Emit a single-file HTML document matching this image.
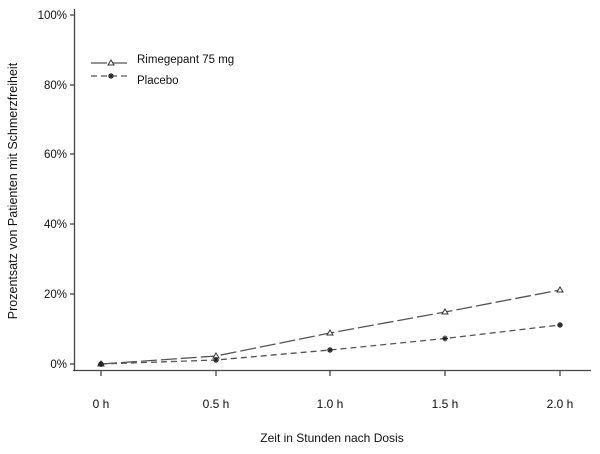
<!DOCTYPE html><html><head><style>body{margin:0;background:#fff}</style></head><body>
<svg width="600" height="449" xmlns="http://www.w3.org/2000/svg" font-family="Liberation Sans, Arial, sans-serif" font-size="12" fill="#111">
<rect width="600" height="449" fill="#fff"/>
<g stroke="#444" stroke-width="1.3" fill="none">
<line x1="74.5" y1="9" x2="74.5" y2="370"/>
<line x1="73" y1="370.5" x2="591" y2="370.5"/>
<line x1="70" y1="15" x2="74" y2="15"/><line x1="70" y1="85" x2="74" y2="85"/><line x1="70" y1="154" x2="74" y2="154"/><line x1="70" y1="224" x2="74" y2="224"/><line x1="70" y1="294" x2="74" y2="294"/><line x1="70" y1="364" x2="74" y2="364"/>
<line x1="101" y1="371" x2="101" y2="376"/><line x1="216" y1="371" x2="216" y2="376"/><line x1="330" y1="371" x2="330" y2="376"/><line x1="445" y1="371" x2="445" y2="376"/><line x1="560" y1="371" x2="560" y2="376"/>
</g>
<g text-anchor="end" font-size="11.5"><text x="67" y="19">100%</text><text x="67" y="89">80%</text><text x="67" y="158">60%</text><text x="67" y="228">40%</text><text x="67" y="298">20%</text><text x="67" y="368">0%</text></g>
<g text-anchor="middle"><text x="101" y="408">0 h</text><text x="216" y="408">0.5 h</text><text x="330" y="408">1.0 h</text><text x="445" y="408">1.5 h</text><text x="560" y="408">2.0 h</text>
<text x="332" y="442">Zeit in Stunden nach Dosis</text>
<text transform="translate(17,191) rotate(-90)" font-size="12.5">Prozentsatz von Patienten mit Schmerzfreiheit</text></g>
<g fill="none" stroke="#555" stroke-width="1.3">
<polyline stroke-dasharray="16,4" points="101,364 216,356 330,333 445,312 560,290"/>
<polyline stroke-dasharray="6,4" points="101,364 216,360 330,350 445,338.5 560,325"/>
<line x1="91" y1="63" x2="128" y2="63" stroke-dasharray="16,4"/>
<line x1="91" y1="76" x2="128" y2="76" stroke-dasharray="6,4"/>
</g>
<g fill="#fff" stroke="#333" stroke-width="1">
<path d="M101,361 l3,5 h-6z M216,353 l3,5 h-6z M330,330 l3,5 h-6z M445,309 l3,5 h-6z M560,287 l3,5 h-6z M111,60 l3,5 h-6z"/>
</g>
<g stroke="#222" stroke-width="1.2">
<path d="M98,364h6M101,361v6M99,362l4,4M103,362l-4,4 M213,360h6M216,357v6M214,358l4,4M218,358l-4,4 M327,350h6M330,347v6M328,348l4,4M332,348l-4,4 M442,338.5h6M445,335.5v6M443,336.5l4,4M447,336.5l-4,4 M557,325h6M560,322v6M558,323l4,4M562,323l-4,4 M108,76h6M111,73v6M109,74l4,4M113,74l-4,4"/>
</g>
<text x="137" y="63" font-size="11.5">Rimegepant 75 mg</text>
<text x="137" y="84" font-size="11.5">Placebo</text>
</svg></body></html>
